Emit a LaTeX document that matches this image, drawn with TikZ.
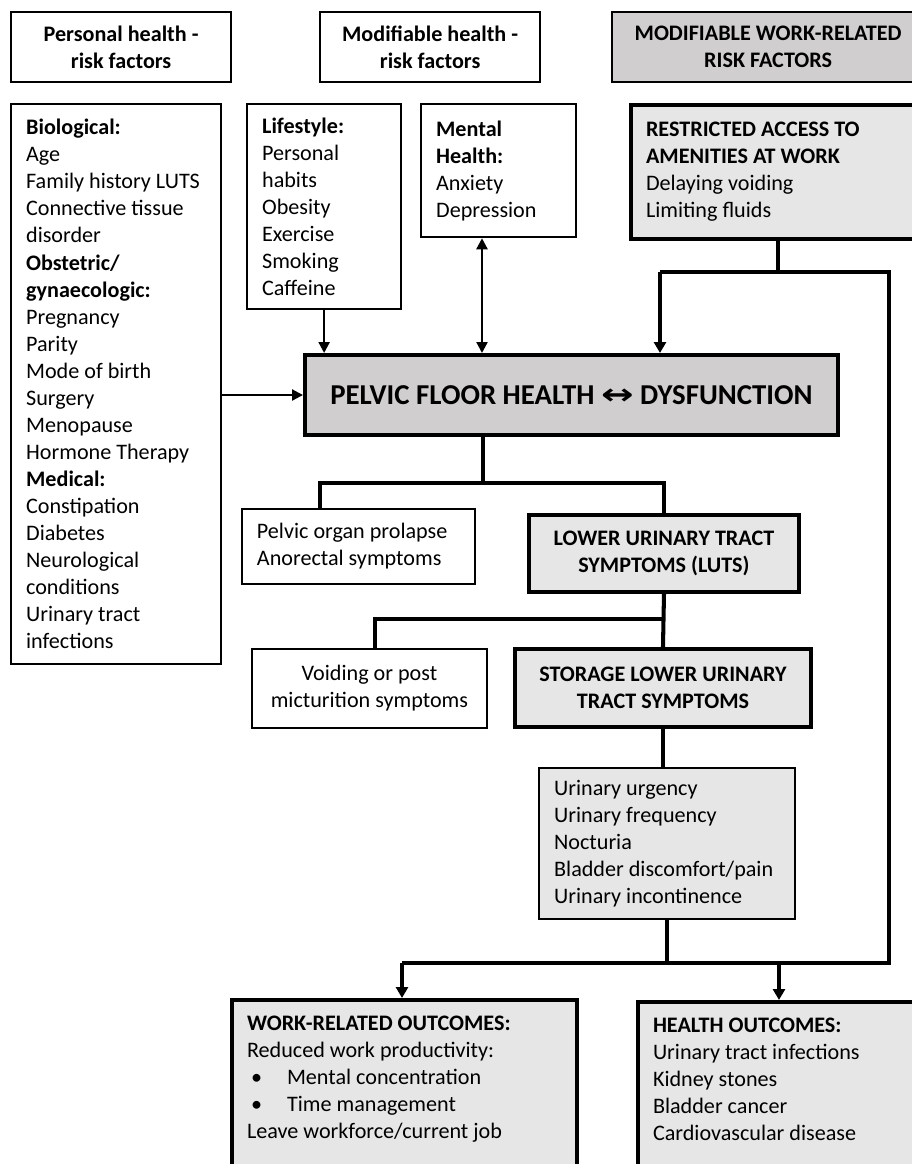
\documentclass[tikz,border=0pt]{standalone}
\usepackage{fontspec,graphicx}
\setmainfont{Carlito}
\newfontfamily\arrfont{DejaVu Sans}
\usetikzlibrary{arrows.meta,calc}
\definecolor{dg}{RGB}{208,206,206}
\definecolor{lg}{RGB}{231,230,230}
\newcommand\fs{\fontsize{12.6}{15.4}\selectfont}
\tikzset{bx/.style={draw,line width=1.3pt,anchor=north west,align=flush left,inner xsep=3mm,inner ysep=1mm},
 gb/.style={bx,fill=lg,line width=2.3pt},
 hd/.style={bx,align=center,font=\fs\bfseries,minimum height=1.4cm,minimum width=4.4cm},
 ctr/.style={align=center,font=\fs\bfseries},
 wire/.style={line width=2.3pt},
 arr/.style={-{Triangle[length=2.2mm,width=2.2mm]},line width=1.3pt},
 warr/.style={wire,-{Triangle[length=2.2mm,width=2.4mm]}},
 every node/.style={font=\fs}}
\begin{document}
\begin{tikzpicture}[x=0.02cm,y=-0.02cm]
\useasboundingbox (0,0) rectangle (912,1164);
\clip (0,0) rectangle (912,1164);
\node[hd] (h1) at (10,11) {Personal health -\\risk factors};
\node[hd] (h2) at (319,11) {Modifiable health -\\risk factors};
\node[hd,fill=dg,minimum width=6.24cm] (h3) at (611,11) {MODIFIABLE WORK-RELATED\\RISK FACTORS};
\node[bx,text width=3.6cm,minimum height=11.2cm] (bio) at (10,103) {\textbf{Biological:}\\Age\\Family history LUTS\\Connective tissue\\disorder\\\textbf{Obstetric/}\\\textbf{gynaecologic:}\\Pregnancy\\Parity\\Mode of birth\\Surgery\\Menopause\\Hormone Therapy\\\textbf{Medical:}\\Constipation\\Diabetes\\Neurological\\conditions\\Urinary tract\\infections};
\node[bx,text width=2.48cm,minimum height=4.1cm] (life) at (246,103) {\textbf{Lifestyle:}\\Personal\\habits\\Obesity\\Exercise\\Smoking\\Caffeine};
\node[bx,text width=2.5cm,minimum height=2.66cm] (ment) at (420,103) {\textbf{Mental}\\\textbf{Health:}\\Anxiety\\Depression};
\node[gb,text width=5.28cm,minimum height=2.68cm] (acc) at (629,103) {\textbf{RESTRICTED ACCESS TO}\\\textbf{AMENITIES AT WORK}\\Delaying voiding\\Limiting fluids};
\node[gb,fill=dg,align=center,minimum width=10.66cm,minimum height=1.6cm,font=\fontsize{16.4}{19}\selectfont\bfseries] (pf) at (303,353) {PELVIC FLOOR HEALTH {\arrfont\scalebox{1.35}[1]{↔}} DYSFUNCTION};
\node[bx,line width=1.1pt,text width=4.06cm,minimum height=1.5cm] (pop) at (241,508) {Pelvic organ prolapse\\Anorectal symptoms};
\node[gb,ctr,minimum width=5.4cm,minimum height=1.54cm] (luts) at (527,513) {LOWER URINARY TRACT\\SYMPTOMS (LUTS)};
\node[bx,line width=1.1pt,align=center,minimum width=4.7cm,minimum height=1.58cm] (void) at (251,648) {Voiding or post\\micturition symptoms};
\node[gb,ctr,minimum width=5.92cm,minimum height=1.56cm] (stor) at (513,647) {STORAGE LOWER URINARY\\TRACT SYMPTOMS};
\node[bx,fill=lg,text width=4.52cm,minimum height=3.02cm] (urg) at (538,767) {Urinary urgency\\Urinary frequency\\Nocturia\\Bladder discomfort/pain\\Urinary incontinence};
\node[gb,text width=6.3cm,text height=0.5cm,text depth=3cm] (work) at (230,998) {\textbf{WORK-RELATED OUTCOMES:}\\Reduced work productivity:\\\hspace*{0.08cm}\textbullet\hspace*{0.5cm}Mental concentration\\\hspace*{0.08cm}\textbullet\hspace*{0.5cm}Time management\\Leave workforce/current job};
\node[gb,text width=5.04cm,text height=0.5cm,text depth=3cm] (hout) at (636,1000) {\textbf{HEALTH OUTCOMES:}\\Urinary tract infections\\Kidney stones\\Bladder cancer\\Cardiovascular disease};
\coordinate (a1) at (483,483);
\coordinate (a2) at (320,483);
\coordinate (a3) at (375,619);
\coordinate (mh) at (482,0);
\coordinate (r2) at (660,272);
\coordinate (r3) at (889,272);
\coordinate (o1) at (402,963);
\coordinate (o2) at (889,963);
\draw[arr] (bio.east |- pf.west) -- (pf.west);
\draw[arr] (life.south) -- (life.south |- pf.north);
\draw[arr,{Triangle[length=2.2mm,width=2.2mm]}-{Triangle[length=2.2mm,width=2.2mm]}] (mh |- ment.south) -- (mh |- pf.north);
\draw[wire] (acc.south) -- (acc.south |- r2);
\draw[warr] (r2) -- (r2 |- pf.north);
\draw[wire] (r2) -- (r3) -- (o2) -- (o1);
\draw[warr] (o1) -- (o1 |- work.north);
\draw[warr] (o1 -| hout.north) -- (hout.north);
\draw[wire] (urg.south) -- (urg.south |- o1);
\draw[wire] (a1 |- pf.south) -- (a1);
\draw[wire] (a2 |- pop.north) -- (a2) -- (a2 -| luts.north) -- (luts.north);
\draw[wire] (luts.south) -- (stor.north);
\draw[wire] (a3 |- void.north) -- (a3) -- (a3 -| luts.south);
\draw[wire] (stor.south) -- (stor.south |- urg.north);
\end{tikzpicture}
\end{document}
